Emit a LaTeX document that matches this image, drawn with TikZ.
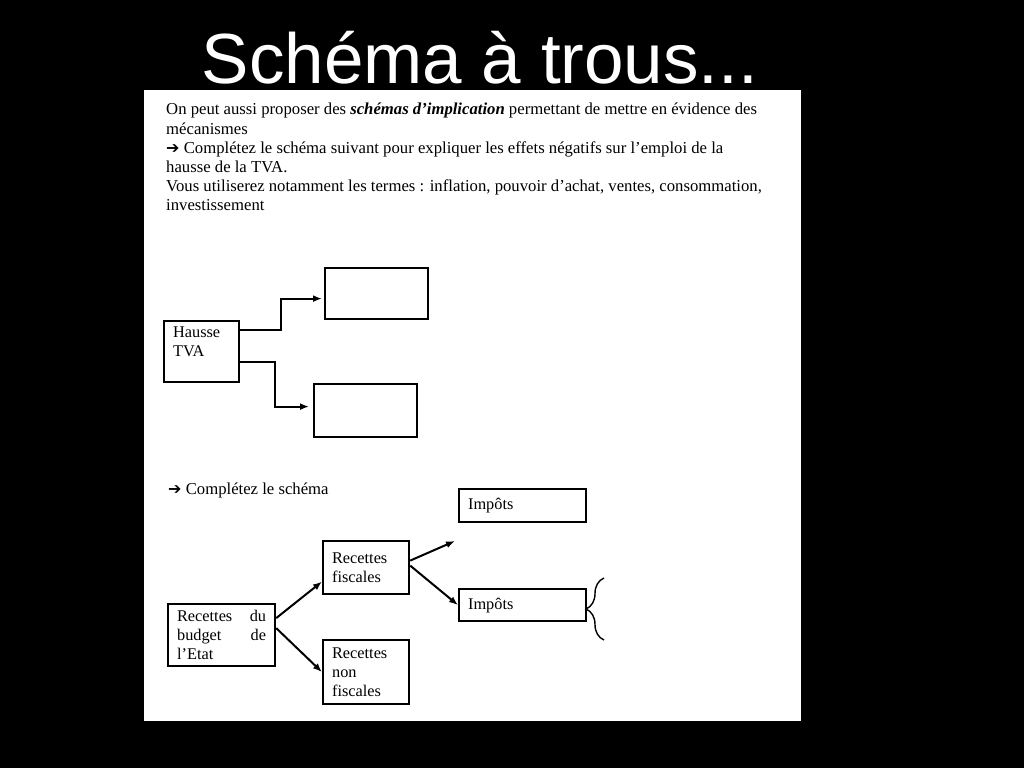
\documentclass[tikz,border=0pt]{standalone}
\usepackage{fontspec}
\setmainfont{Liberation Serif}
\newfontfamily\titlefont{Liberation Sans}
\newfontfamily\symfont{DejaVu Sans}
\usepackage{tikz}
\usetikzlibrary{arrows.meta,decorations.pathreplacing}
\newcommand{\fleche}{{\symfont\fontsize{16}{19}\selectfont ➔}}

\begin{document}
\begin{tikzpicture}[x=1pt,y=-1pt,
  box/.style={draw,line width=2.2pt,anchor=north west,inner xsep=9pt,inner ysep=0pt,
    align=left,font=\fontsize{16.3}{19}\selectfont},
  txt/.style={inner sep=0pt,align=left,font=\fontsize{16.7}{19.2}\selectfont},
  arrow/.style={-{Latex[length=9pt,width=7pt]},line width=2pt}
]
  \fill[black] (0,0) rectangle (1024,768);
  \useasboundingbox (0,0) rectangle (1024,768);
  \fill[white] (144,90) rectangle (801,721);
  \node[anchor=base,text=white,font=\titlefont\fontsize{71}{80}\selectfont] (titre) at (480,83) {Schéma à trous...};
  \node[txt,anchor=north west] (consigne) at (166,103) {On peut aussi proposer des \textbf{\textit{schémas d’implication}} permettant de mettre en évidence des\\
    mécanismes\\
    \fleche{} Complétez le schéma suivant pour expliquer les effets négatifs sur l’emploi de la\\
    hausse de la TVA.\\
    Vous utiliserez notamment les termes : inflation, pouvoir d’achat, ventes, consommation,\\
    investissement};

  \node[box,minimum width=75,minimum height=61,text width=57] (hausse) at (163,320) {Hausse\\TVA\\\mbox{}};
  \node[box,minimum width=103,minimum height=51] (effet1) at (324,267) {};
  \node[box,minimum width=103,minimum height=53] (effet2) at (313,383) {};
  \draw[arrow] ([yshift=22pt]hausse.east) -- ++(41,0) |- ([xshift=-2pt,yshift=-5pt]effet1.west);
  \draw[arrow] ([yshift=-10pt]hausse.east) -- ++(35,0) |- ([xshift=-4pt,yshift=4pt]effet2.west);

  \node[txt,anchor=base west] (consigne2) at (168,494) {\fleche{} Complétez le schéma};
  \node[box,minimum width=107,minimum height=62,text width=89] (budget) at (167,603) {Recettes\hfill du\\budget\hfill de\\l’Etat};
  \node[box,minimum width=86,minimum height=53,text width=68] (fiscales) at (322,540) {Recettes\\fiscales};
  \node[box,minimum width=86,minimum height=64,text width=68] (nonfiscales) at (322,639) {Recettes\\non\\fiscales};
  \node[box,minimum width=127,minimum height=33,text width=109] (impots1) at (458,488) {Impôts};
  \node[box,minimum width=127,minimum height=32,text width=109] (impots2) at (458,588) {Impôts};
  \coordinate (vide) at (455,541);
  \draw[arrow] ([yshift=17pt]budget.east) -- ([yshift=-14pt]fiscales.west);
  \draw[arrow] ([yshift=7pt]budget.east) -- (nonfiscales.west);
  \draw[arrow] ([yshift=7pt]fiscales.east) -- (vide);
  \draw[arrow] ([yshift=2pt]fiscales.east) -- (impots2.west);
  \draw[line width=1.4pt,decorate,decoration={brace,amplitude=18pt}] (604,640) -- (604,578);
\end{tikzpicture}
\end{document}
